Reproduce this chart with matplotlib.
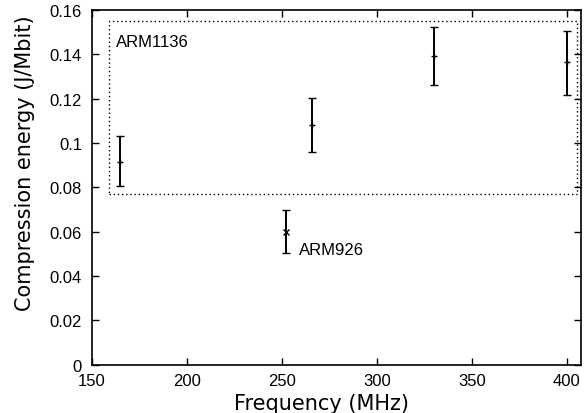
import matplotlib
matplotlib.use("Agg")
import matplotlib.pyplot as plt
from matplotlib.patches import Rectangle

# ARM1136 measurements
arm1136_freq = [165, 266, 330, 400]
arm1136_energy = [0.0915, 0.1081, 0.1391, 0.1364]
arm1136_low = [0.0805, 0.0961, 0.1260, 0.1217]
arm1136_high = [0.1030, 0.1202, 0.1523, 0.1507]

# ARM926 measurement
arm926_freq = [252]
arm926_energy = [0.0600]
arm926_low = [0.0504]
arm926_high = [0.0698]

xticks = [150, 200, 250, 300, 350, 400]
yticks = [0, 0.02, 0.04, 0.06, 0.08, 0.10, 0.12, 0.14, 0.16]
ytick_labels = ["0", "0.02", "0.04", "0.06", "0.08", "0.1", "0.12", "0.14", "0.16"]

# annotation box around ARM1136 group (data coords)
box_x0, box_x1 = 159, 405.5
box_y0, box_y1 = 0.077, 0.155

fig = plt.figure(figsize=(5.88, 4.14), dpi=100)
ax = fig.add_axes([0.156, 0.1167, 0.832, 0.8567])

tick_font = "Liberation Sans"

def err(vals, lo, hi):
    return [[v - l for v, l in zip(vals, lo)], [h - v for v, h in zip(vals, hi)]]

ax.errorbar(arm1136_freq, arm1136_energy, yerr=err(arm1136_energy, arm1136_low, arm1136_high),
            fmt='+', color='black', ecolor='black', elinewidth=1.4, capsize=3, capthick=1.2,
            markersize=5, markeredgewidth=1.0)
ax.errorbar(arm926_freq, arm926_energy, yerr=err(arm926_energy, arm926_low, arm926_high),
            fmt='x', color='black', ecolor='black', elinewidth=1.4, capsize=3, capthick=1.2,
            markersize=4, markeredgewidth=1.0)

ax.add_patch(Rectangle((box_x0, box_y0), box_x1 - box_x0, box_y1 - box_y0, fill=False,
                       edgecolor='black', linewidth=1.0, linestyle=(0, (1, 2))))

ax.text(162.8, 0.146, "ARM1136", ha='left', va='center', fontsize=12, family=tick_font)
ax.text(259.2, 0.0519, "ARM926", ha='left', va='center', fontsize=12, family=tick_font)

ax.set_xlim(150, 407.5)
ax.set_ylim(0, 0.16)
ax.set_xticks(xticks)
ax.set_xticklabels([str(t) for t in xticks], fontsize=12, family=tick_font)
ax.set_yticks(yticks)
ax.set_yticklabels(ytick_labels, fontsize=12, family=tick_font)
ax.tick_params(direction='in', length=5, width=1.0, top=True, right=True)
ax.tick_params(axis='y', pad=7)
ax.tick_params(axis='x', pad=6)
for s in ax.spines.values():
    s.set_linewidth(1.2)

fig.text(321 / 588, 4 / 414, "Frequency (MHz)", ha='center', va='baseline', fontsize=15,
         family="DejaVu Sans")
fig.text(25 / 588, 251 / 414, "Compression energy (J/Mbit)", ha='center', va='center',
         rotation=90, fontsize=15, family="DejaVu Sans")

fig.savefig("out.png", dpi=100)
